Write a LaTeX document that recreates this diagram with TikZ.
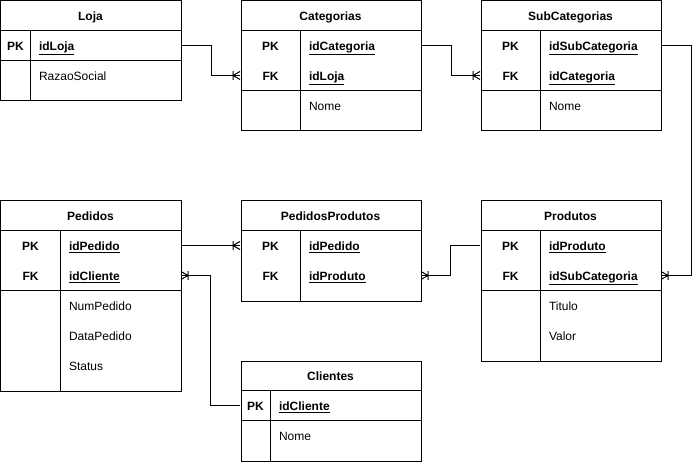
\documentclass[tikz,border=0pt]{standalone}
\usepackage{fontspec}
\setmainfont{Liberation Sans}
\newcommand\dbsize{\fontsize{12}{14}\selectfont}
% one-or-many end of a relation
\pgfdeclarearrow{
  name = manyend,
  setup code = {
    \pgfarrowssettipend{0pt}
    \pgfarrowssetlineend{0pt}
    \pgfarrowssetbackend{-8pt}
    \pgfarrowsupperhullpoint{0pt}{4.5pt}
    \pgfarrowsupperhullpoint{-8pt}{4.5pt}
  },
  drawing code = {
    \pgfsetdash{}{0pt}
    \pgfpathmoveto{\pgfqpoint{0pt}{4pt}}
    \pgfpathlineto{\pgfqpoint{-7pt}{0pt}}
    \pgfpathlineto{\pgfqpoint{0pt}{-4pt}}
    \pgfpathmoveto{\pgfqpoint{-7pt}{4.5pt}}
    \pgfpathlineto{\pgfqpoint{-7pt}{-4.5pt}}
    \pgfusepathqstroke
  }
}
\tikzset{
  tbl/.style={draw, anchor=north west, minimum width=180pt, inner sep=0pt},
  txt/.style={inner sep=0pt, text height=12.8pt, text depth=2.4pt},
  head/.style={txt, font=\dbsize\bfseries},
  key/.style={txt, font=\dbsize\bfseries},
  fld/.style={txt, anchor=west, font=\dbsize},
  idfld/.style={txt, anchor=west, font=\dbsize\bfseries},
  row/.style={minimum width=180pt, minimum height=30pt, inner sep=0pt},
  rel/.style={-manyend}
}
\begin{document}
\begin{tikzpicture}[x=1pt, y=-1pt, line width=1pt]
\useasboundingbox (-0.5,-0.5) rectangle (699.5,461.5);
% Loja
\node[tbl, minimum height=100pt] (loja) at (0,0) {};
\draw (0,30) -- (180,30) (0,60) -- (180,60) (30,30) -- (30,100);
\node[head] (lojaT) at (90,15) {Loja};
\node[row] (lojaId) at (90,45) {};
\node[key] (lojaPK) at (15,45) {PK};
\node[idfld] (lojaIdT) at (38,45) {\underline{idLoja}};
\node[fld] (lojaRS) at (38,75) {RazaoSocial};
% Categorias
\node[tbl, minimum height=130pt] (cat) at (240,0) {};
\draw (240,30) -- (420,30) (240,90) -- (420,90) (300,30) -- (300,130);
\node[head] (catT) at (330,15) {Categorias};
\node[row] (catId) at (330,45) {};
\node[row] (catLoja) at (330,75) {};
\node[key] (catPK) at (270,45) {PK};
\node[key] (catFK) at (270,75) {FK};
\node[idfld] (catIdT) at (308,45) {\underline{idCategoria}};
\node[idfld] (catLojaT) at (308,75) {\underline{idLoja}};
\node[fld] (catNome) at (308,105) {Nome};
% SubCategorias
\node[tbl, minimum height=130pt] (sub) at (480,0) {};
\draw (480,30) -- (660,30) (480,90) -- (660,90) (540,30) -- (540,130);
\node[head] (subT) at (570,15) {SubCategorias};
\node[row] (subId) at (570,45) {};
\node[row] (subCat) at (570,75) {};
\node[key] (subPK) at (510,45) {PK};
\node[key] (subFK) at (510,75) {FK};
\node[idfld] (subIdT) at (548,45) {\underline{idSubCategoria}};
\node[idfld] (subCatT) at (548,75) {\underline{idCategoria}};
\node[fld] (subNome) at (548,105) {Nome};
% Pedidos
\node[tbl, minimum height=190pt] (ped) at (0,200) {};
\draw (0,230) -- (180,230) (0,290) -- (180,290) (60,230) -- (60,390);
\node[head] (pedT) at (90,215) {Pedidos};
\node[row] (pedId) at (90,245) {};
\node[row] (pedCli) at (90,275) {};
\node[key] (pedPK) at (30,245) {PK};
\node[key] (pedFK) at (30,275) {FK};
\node[idfld] (pedIdT) at (68,245) {\underline{idPedido}};
\node[idfld] (pedCliT) at (68,275) {\underline{idCliente}};
\foreach \f/\y in {NumPedido/305, DataPedido/335, Status/365}
  \node[fld] (ped\f) at (68,\y) {\f};
% PedidosProdutos
\node[tbl, minimum height=100pt] (pp) at (240,200) {};
\draw (240,230) -- (420,230) (300,230) -- (300,300);
\node[head] (ppT) at (330,215) {PedidosProdutos};
\node[row] (ppPed) at (330,245) {};
\node[row] (ppProd) at (330,275) {};
\node[key] (ppPK) at (270,245) {PK};
\node[key] (ppFK) at (270,275) {FK};
\node[idfld] (ppPedT) at (308,245) {\underline{idPedido}};
\node[idfld] (ppProdT) at (308,275) {\underline{idProduto}};
% Produtos
\node[tbl, minimum height=160pt] (prod) at (480,200) {};
\draw (480,230) -- (660,230) (480,290) -- (660,290) (540,230) -- (540,360);
\node[head] (prodT) at (570,215) {Produtos};
\node[row] (prodId) at (570,245) {};
\node[row] (prodSub) at (570,275) {};
\node[key] (prodPK) at (510,245) {PK};
\node[key] (prodFK) at (510,275) {FK};
\node[idfld] (prodIdT) at (548,245) {\underline{idProduto}};
\node[idfld] (prodSubT) at (548,275) {\underline{idSubCategoria}};
\foreach \f/\y in {Titulo/305, Valor/335}
  \node[fld] (prod\f) at (548,\y) {\f};
% Clientes
\node[tbl, minimum height=100pt] (cli) at (240,360) {};
\draw (240,390) -- (420,390) (240,420) -- (420,420) (270,390) -- (270,460);
\node[head] (cliT) at (330,375) {Clientes};
\node[row] (cliId) at (330,405) {};
\node[key] (cliPK) at (255,405) {PK};
\node[idfld] (cliIdT) at (278,405) {\underline{idCliente}};
\node[fld] (cliNome) at (278,435) {Nome};
% relations
\draw[rel] (lojaId.east) -- ++(30,0) |- (catLoja.west);
\draw[rel] (catId.east) -- ++(30,0) |- (subCat.west);
\draw[rel] (subId.east) -- ++(30,0) |- (prodSub.east);
\draw[rel] (pedId.east) -- (ppPed.west);
\draw[rel] (prodId.west) -- ++(-30,0) |- (ppProd.east);
\draw[rel] (cliId.west) -- ++(-30,0) |- (pedCli.east);
\end{tikzpicture}
\end{document}
